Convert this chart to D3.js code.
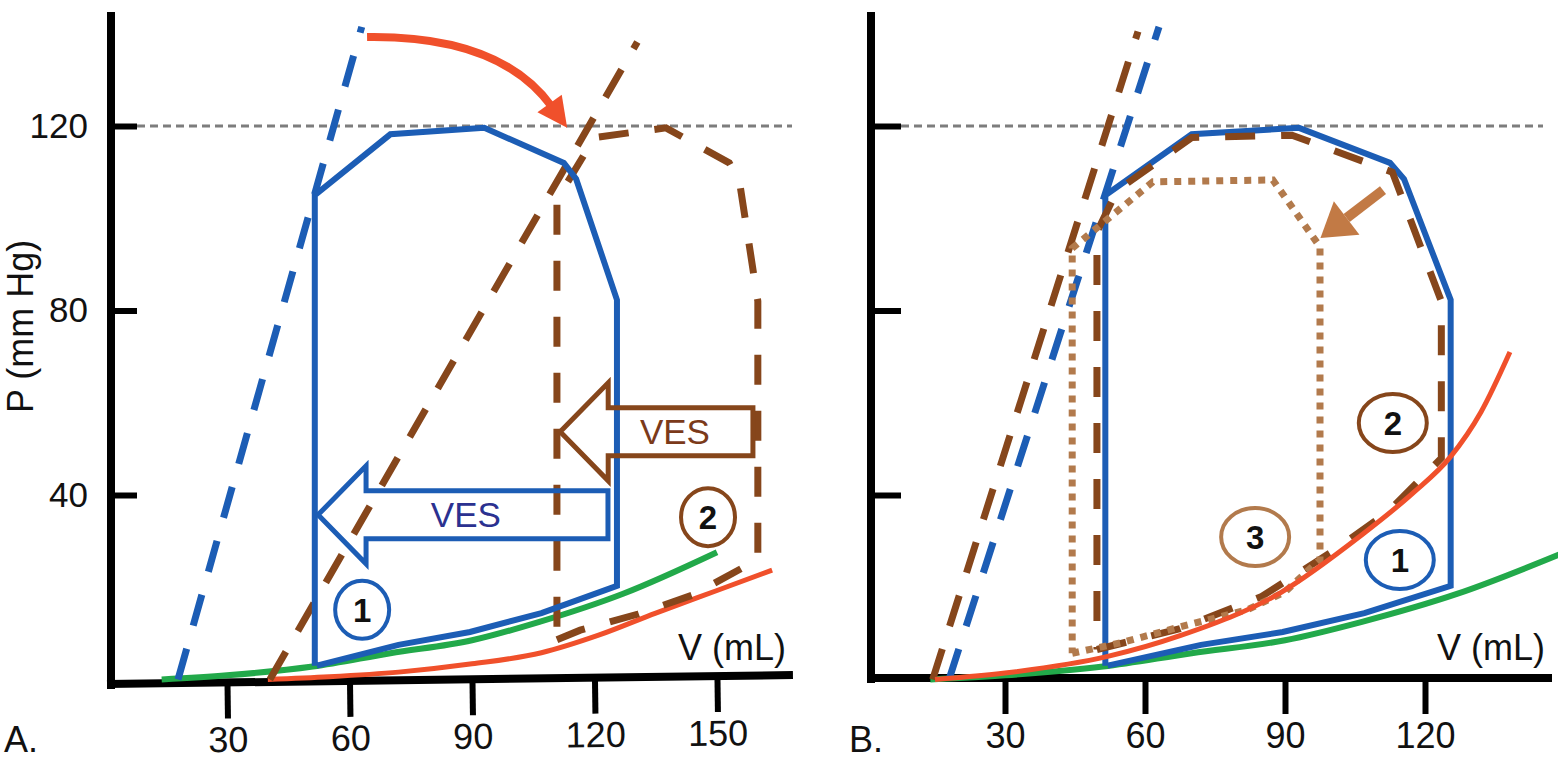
<!DOCTYPE html>
<html>
<head>
<meta charset="utf-8">
<script src="https://cdn.jsdelivr.net/npm/d3@7"></script>
<style>
  body { margin: 0; background: #fff; }
  svg { display: block; font-family: "Liberation Sans", Arial, Helvetica, sans-serif; }
</style>
</head>
<body>
<svg id="chart" width="1558" height="764"></svg>
<script>
// ---- data : volume in mL, pressure in mm Hg ----
const volTicksA = [30, 60, 90, 120, 150];
const volTicksB = [30, 60, 90, 120];
const presTicks = [40, 80, 120];
const refPressure = 120;

// end-systolic P-V relations (dashed lines)
const espvrBlue   = [[18, 0], [63, 141.5]];
const espvrBrownA = [[40.5, 0], [130.5, 138.2]];
const espvrBrownB = [[14.5, 0], [58.5, 140.5]];

// end-diastolic P-V relations
const edpvrGreen = [[14, 0], [30, 0.9], [51, 2.8], [70, 5.7], [90, 8.5], [106.5, 12.5], [127, 18.6], [150, 27.6]];
const edpvrRedA  = [[40, 0], [55, 0.6], [72, 1.6], [90, 3.4], [107, 5.8], [121, 9.6], [135, 14.4], [150, 19.3], [163.5, 23.7]];
const edpvrRedB  = [[15, 0], [30, 1.4], [52, 5], [67.5, 9.5], [89, 18.8], [106, 31], [117.4, 40.4], [125.4, 48.2], [132, 58], [138.2, 71]];

// pressure-volume loops
const loop1  = [[52, 3], [72, 7.5], [89.5, 10.3], [107, 14.4], [125.5, 20.3], [125.5, 82.3], [115.5, 108.5], [112.5, 112], [93, 119.6], [70, 118.2], [51.5, 105], [51.5, 3]];
const loop2A = [[110.8, 8.6], [116.5, 10.7], [130.7, 14.2], [144, 18.3], [160, 26], [160, 82], [155.5, 108], [153, 112], [137.5, 119.6], [120, 117.5], [110.8, 104], [110.8, 8.6]];
const loop2B = [[49.7, 6.5], [67.5, 11], [85, 18], [99.6, 27.4], [111.8, 36.1], [123.5, 48], [123.5, 82], [113, 110], [91.5, 118], [70, 117.5], [54, 106], [49.7, 97], [49.7, 6.5]];
const loop3B = [[44.4, 5.7], [55, 8], [67.5, 11.4], [81.9, 15.1], [90, 19], [97.5, 26], [97.5, 93.8], [87.4, 108.3], [61.7, 107.9], [44.4, 93.5], [44.4, 5.7]];

// "VES" hollow arrows of panel A: from tail volume to tip volume at pressure p
const vesArrows = [
  { key: '1', label: 'VES', tail: 123.3, tip: 52.3, p: 35.7, textV: 88.5 },
  { key: '2', label: 'VES', tail: 158.8, tip: 111.6, p: 53.7, textV: 139.7 }
];
// curved shift arrow (start, control, end) and straight arrow (tail, tip)
const shiftArrowA = [[64.3, 139.3], [96.9, 139.7], [113.3, 119.6]];
const shiftArrowB = [[111, 106.1], [97.6, 95.7]];

// numbered circles
const markersA = [{ n: '1', v: 63.1, p: 15.1 }, { n: '2', v: 147.8, p: 35.2 }];
const markersB = [{ n: '2', v: 113.1, p: 55.6 }, { n: '1', v: 114.6, p: 25.9 }, { n: '3', v: 83.6, p: 30.9 }];

// ---- styles ----
const col = {
  blue: '#1c5db5', brown: '#86461b', tan: '#b27a4c', red: '#f0502b', green: '#22a94a',
  navy: '#2b3190', vesBrown: '#7b3a1a', arrowTan: '#c27a45', ref: '#7d7d7d'
};
const markerCol = { '1': col.blue, '2': col.brown, '3': col.tan };
const vesCol = { '1': { stroke: col.blue, text: col.navy }, '2': { stroke: col.brown, text: col.vesBrown } };

const svg = d3.select('#chart');
const y = d3.scaleLinear().domain([0, 120]).range([679.5, 126]);
const xA = d3.scaleLinear().domain([0, 150]).range([104.5, 717]);
const xB = d3.scaleLinear().domain([0, 120]).range([865, 1425]);

function drawAxes(g, p) {
  g.append('line')
    .attr('x1', p.axisX).attr('x2', p.axisX).attr('y1', 12).attr('y2', p.axisY + 5)
    .attr('stroke', '#000').attr('stroke-width', 8);

  const ya = d3.axisLeft(y).tickValues(presTicks).tickSize(-p.yTick).tickPadding(23);
  if (!p.yLabels) ya.tickFormat(() => '');
  const yg = g.append('g').attr('transform', `translate(${p.axisX},0)`).call(ya);
  yg.select('.domain').remove();
  yg.selectAll('line').attr('stroke', '#000').attr('stroke-width', 6);
  yg.selectAll('text').attr('font-size', 35).attr('font-family', null).attr('fill', '#111');

  const xg = g.append('g')
    .attr('transform', `translate(0,${p.axisY}) rotate(${p.tilt},${p.axisX},0)`)
    .call(d3.axisBottom(p.x).tickValues(p.ticks).tickSize(36).tickPadding(8));
  xg.select('.domain').remove();
  xg.selectAll('line').attr('stroke', '#000').attr('stroke-width', 6);
  xg.selectAll('text').attr('font-size', 36).attr('font-family', null).attr('fill', '#111');
  xg.append('line')
    .attr('x1', p.axisX - 4).attr('x2', p.axisEnd).attr('y1', 0).attr('y2', 0)
    .attr('stroke', '#000').attr('stroke-width', 8);

  // reference pressure
  g.append('line')
    .attr('x1', p.axisX + p.yTick).attr('x2', p.refEnd)
    .attr('y1', y(refPressure)).attr('y2', y(refPressure))
    .attr('stroke', col.ref).attr('stroke-width', 3).attr('stroke-dasharray', '8,5');

  g.append('text').attr('x', p.axisEnd - 115).attr('y', 660)
    .attr('font-size', 36).attr('fill', '#111').text('V (mL)');
  g.append('text').attr('x', p.letterX).attr('y', 752)
    .attr('font-size', 36).attr('fill', '#111').text(p.letter);
}

function addPath(g, x, data, stroke, width, dash, curved) {
  const line = d3.line().x(d => x(d[0])).y(d => y(d[1]));
  if (curved) line.curve(d3.curveMonotoneX);
  g.append('path').attr('d', line(data))
    .attr('fill', 'none').attr('stroke', stroke).attr('stroke-width', width)
    .attr('stroke-dasharray', dash || null).attr('stroke-linejoin', 'miter');
}

function addMarkers(g, x, markers, rx, ry) {
  const m = g.selectAll(null).data(markers).join('g')
    .attr('transform', d => `translate(${x(d.v)},${y(d.p)})`);
  m.append('ellipse').attr('rx', rx).attr('ry', ry)
    .attr('fill', 'none').attr('stroke', d => markerCol[d.n]).attr('stroke-width', 4);
  m.append('text').attr('text-anchor', 'middle').attr('dy', '0.36em')
    .attr('font-size', 33).attr('font-weight', 'bold').attr('fill', '#111')
    .text(d => d.n);
}

// ---------- panel A ----------
const gA = svg.append('g');
drawAxes(gA, { x: xA, axisX: 111, axisY: 684, tilt: -0.75, axisEnd: 793, refEnd: 792,
  ticks: volTicksA, yTick: 26, yLabels: true, letter: 'A.', letterX: 4 });

addPath(gA, xA, edpvrRedA, col.red, 5, null, true);
addPath(gA, xA, edpvrGreen, col.green, 6, null, true);
addPath(gA, xA, espvrBrownA, col.brown, 7, '32,24');
addPath(gA, xA, espvrBlue, col.blue, 7, '32,24');
addPath(gA, xA, loop2A, col.brown, 7, '30,26');
addPath(gA, xA, loop1, col.blue, 6);

const headLen = 48, shaftH = 24, headH = 49;
vesArrows.forEach(a => {
  const xt = xA(a.tip), xe = xA(a.tail), xn = xt + headLen, yc = y(a.p);
  gA.append('path')
    .attr('d', `M${xt},${yc}L${xn},${yc - headH}L${xn},${yc - shaftH}L${xe},${yc - shaftH}` +
               `L${xe},${yc + shaftH}L${xn},${yc + shaftH}L${xn},${yc + headH}Z`)
    .attr('fill', 'none').attr('stroke', vesCol[a.key].stroke).attr('stroke-width', 5);
  gA.append('text').attr('x', xA(a.textV)).attr('y', yc).attr('dy', '0.36em')
    .attr('text-anchor', 'middle').attr('font-size', 35).attr('fill', vesCol[a.key].text)
    .text(a.label);
});

addMarkers(gA, xA, markersA, 27, 29);

// curved red arrow
{
  const [s, c, e] = shiftArrowA.map(d => [xA(d[0]), y(d[1])]);
  const ang = Math.atan2(e[1] - c[1], e[0] - c[0]);
  const hl = 30, hw = 15;
  const bx = e[0] - hl * Math.cos(ang), by = e[1] - hl * Math.sin(ang);
  gA.append('path').attr('d', `M${s[0]},${s[1]}Q${c[0]},${c[1]} ${bx + 4 * Math.cos(ang)},${by + 4 * Math.sin(ang)}`)
    .attr('fill', 'none').attr('stroke', col.red).attr('stroke-width', 8);
  const px = -Math.sin(ang), py = Math.cos(ang);
  gA.append('path')
    .attr('d', `M${e[0]},${e[1]}L${bx + hw * px},${by + hw * py}L${bx - hw * px},${by - hw * py}Z`)
    .attr('fill', col.red);
}

gA.append('text')
  .attr('transform', 'translate(33,413) rotate(-90)')
  .attr('font-size', 36).attr('fill', '#111').text('P (mm Hg)');

// ---------- panel B ----------
const gB = svg.append('g');
drawAxes(gB, { x: xB, axisX: 871, axisY: 678, tilt: 0, axisEnd: 1552, refEnd: 1543,
  ticks: volTicksB, yTick: 30, yLabels: false, letter: 'B.', letterX: 849 });

addPath(gB, xB, edpvrGreen, col.green, 6, null, true);
addPath(gB, xB, espvrBlue, col.blue, 7, '32,24');
addPath(gB, xB, espvrBrownB, col.brown, 7, '32,24');
addPath(gB, xB, loop1, col.blue, 6);
addPath(gB, xB, loop2B, col.brown, 7, '30,26');
addPath(gB, xB, loop3B, col.tan, 7, '7,7');
addPath(gB, xB, edpvrRedB, col.red, 5, null, true);

// straight tan arrow
{
  const [t, e] = shiftArrowB.map(d => [xB(d[0]), y(d[1])]);
  const ang = Math.atan2(e[1] - t[1], e[0] - t[0]);
  const hl = 33, hw = 21;
  const bx = e[0] - hl * Math.cos(ang), by = e[1] - hl * Math.sin(ang);
  gB.append('line').attr('x1', t[0]).attr('y1', t[1]).attr('x2', bx).attr('y2', by)
    .attr('stroke', col.arrowTan).attr('stroke-width', 10);
  const px = -Math.sin(ang), py = Math.cos(ang);
  gB.append('path')
    .attr('d', `M${e[0]},${e[1]}L${bx + hw * px},${by + hw * py}L${bx - hw * px},${by - hw * py}Z`)
    .attr('fill', col.arrowTan);
}

addMarkers(gB, xB, markersB, 34, 29);
</script>
</body>
</html>
